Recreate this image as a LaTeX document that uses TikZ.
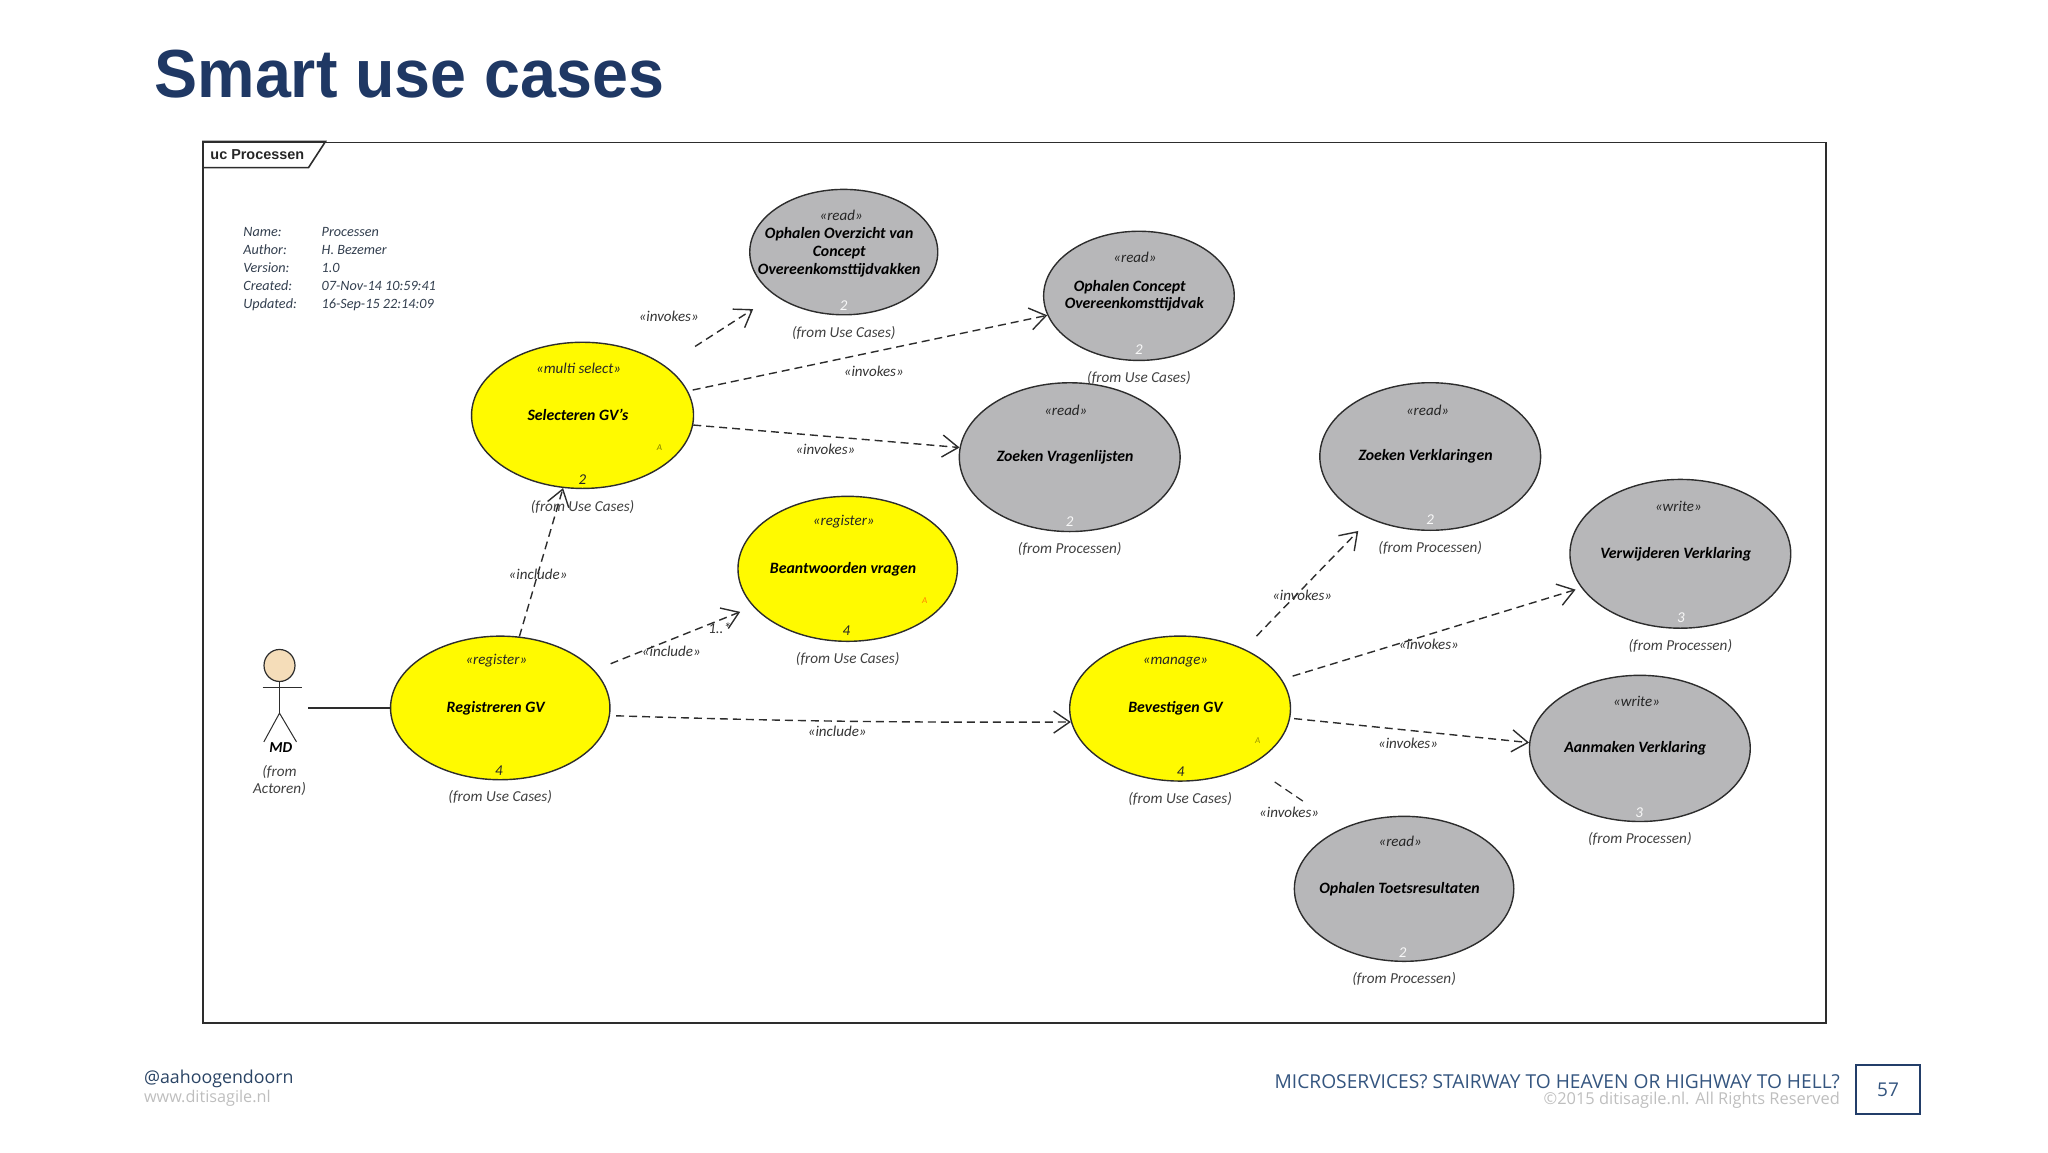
\documentclass[tikz,border=0pt]{standalone}
\usepackage{fontspec}
\setmainfont{Carlito}
\newfontfamily\titlefont[FakeStretch=0.95]{Liberation Sans}
\newfontfamily\framefont{Liberation Sans}
\newfontfamily\footfont{Open Sans}
\usetikzlibrary{arrows.meta,shapes,positioning}
\definecolor{ucyellow}{RGB}{255,250,0}
\definecolor{ucgrey}{RGB}{183,183,185}
\definecolor{ucline}{RGB}{45,45,45}
\definecolor{infotext}{RGB}{50,62,78}
\definecolor{titleblue}{RGB}{31,56,100}
\definecolor{footblue}{RGB}{52,85,127}
\definecolor{footgrey}{RGB}{190,190,190}
\definecolor{skin}{RGB}{245,221,185}
\tikzstyle{usecase} = [ellipse, draw=ucline, line width=0.7pt, inner sep=0pt, inner xsep=-8pt, align=center, font=\fontsize{7.9}{8.9}\selectfont\bfseries\itshape, text=black, execute at end node={\kern4.6pt}]
\tikzstyle{ucyel} = [usecase, fill=ucyellow]
\tikzstyle{ucgry} = [usecase, fill=ucgrey]
\tikzstyle{stereo} = [inner sep=0pt, font=\fontsize{7.5}{9}\selectfont\itshape, text=black!85]
\tikzstyle{fromlabel} = [inner sep=0pt, font=\fontsize{7.6}{8.5}\selectfont\itshape, text=black!75]
\tikzstyle{numdark} = [inner sep=0pt, font=\fontsize{7.5}{8}\selectfont\itshape, text=black!85]
\tikzstyle{numlight} = [inner sep=0pt, font=\fontsize{7.5}{8}\selectfont\itshape, text=white!90!ucgrey]
\tikzstyle{abslabel} = [inner sep=0pt, font=\fontsize{4.5}{5}\selectfont\itshape]
\tikzstyle{depend} = [ucline, line width=0.7pt, dash pattern=on 4pt off 2.5pt, -{Straight Barb[length=8pt,width=11pt]}]
\tikzstyle{deplabel} = [stereo, text=black!80]
\tikzstyle{infolist} = [anchor=west, align=left, inner sep=0pt, font=\fontsize{7.1}{8.95}\selectfont\itshape, text=infotext]

\begin{document}
\begin{tikzpicture}[x=0.65306pt,y=-0.65306pt]
\useasboundingbox (0,0) rectangle (1568,882);

% heading
\node[anchor=base west, inner sep=0pt, font=\fontsize{34}{40}\selectfont\titlefont\bfseries, text=titleblue] (title) at (118,75) {Smart use cases};

% diagram frame
\node[draw=ucline, line width=0.8pt, minimum width=811.7pt, minimum height=440.2pt, inner sep=0pt] (frame) at (776.75,446) {};
\draw[ucline, line width=0.8pt] (frame.north west) -- ++(94.5,0) -- ++(-13,20) -- ++(-81.5,0);
\node[inner sep=0pt, font=\fontsize{7.2}{8}\selectfont\framefont\bfseries, text=black!85] (frameName) at (197,118.5) {uc Processen};

% info block
\node[infolist] (infoKeys) at (186,206) {Name:\\Author:\\Version:\\Created:\\Updated:};
\node[infolist] (infoVals) at (246,206) {Processen\\H. Bezemer\\1.0\\07-Nov-14 10:59:41\\16-Sep-15 22:14:09};

% use cases
\node[ucgry, inner xsep=-11pt, minimum width=94pt, minimum height=62.7pt] (op1) at (646,193) {Ophalen Overzicht van\\Concept\\Overeenkomsttijdvakken};
\node[ucgry, minimum width=95.3pt, minimum height=64.6pt] (op2) at (872,226.5) {Ophalen Concept\kern4.6pt\\Overeenkomsttijdvak};
\node[ucyel, minimum width=111pt, minimum height=73.1pt] (sel) at (446,318) {Selecteren GV's};
\node[ucgry, minimum width=110.4pt, minimum height=74.4pt] (zv) at (819,350) {Zoeken Vragenlijsten};
\node[ucgry, minimum width=110.4pt, minimum height=73.8pt] (zl) at (1095,349.5) {Zoeken Verklaringen};
\node[ucgry, minimum width=110.4pt, minimum height=74.4pt] (verw) at (1286.5,424) {Verwijderen Verklaring};
\node[ucyel, minimum width=109.7pt, minimum height=72.5pt] (bea) at (649,435.5) {Beantwoorden vragen};
\node[ucyel, minimum width=109.7pt, minimum height=71.8pt] (reg) at (383,542) {Registreren GV};
\node[ucyel, minimum width=110.4pt, minimum height=72.5pt] (bev) at (903.5,542.5) {Bevestigen GV};
\node[ucgry, minimum width=110.4pt, minimum height=73.1pt] (aan) at (1255.5,573) {Aanmaken Verklaring};
\node[ucgry, minimum width=109.7pt, minimum height=72.5pt] (opt) at (1075,680.5) {Ophalen Toetsresultaten};

% stereotypes
\node[stereo] (op1S) at (644,165) {«read»};
\node[stereo] (op2S) at (869,197) {«read»};
\node[stereo] (selS) at (443,282) {«multi select»};
\node[stereo] (zvS) at (816,314) {«read»};
\node[stereo] (zlS) at (1093,314) {«read»};
\node[stereo] (verwS) at (1285,388) {«write»};
\node[stereo] (beaS) at (646,399) {«register»};
\node[stereo] (regS) at (380,506) {«register»};
\node[stereo] (bevS) at (900,507) {«manage»};
\node[stereo] (aanS) at (1253,537) {«write»};
\node[stereo] (optS) at (1072,644) {«read»};

% numbers and small marks
\node[numlight] (op1N) at (646,234) {2};
\node[numlight] (op2N) at (872,268) {2};
\node[numdark] (selN) at (446,367) {2};
\node[numlight] (zvN) at (819,399) {2};
\node[numlight] (zlN) at (1095,398) {2};
\node[numlight] (verwN) at (1287,473) {3};
\node[numdark] (beaN) at (648,483) {4};
\node[numdark] (regN) at (382,590) {4};
\node[numdark] (bevN) at (904,591) {4};
\node[numlight] (aanN) at (1255,622) {3};
\node[numlight] (optN) at (1074,729) {2};
\node[abslabel, text=black!50!ucyellow] (selA) at (505,343) {A};
\node[abslabel, text=orange] (beaA) at (708,460) {A};
\node[abslabel, text=black!40!ucyellow] (bevA) at (963,567) {A};

% from labels
\node[fromlabel, below=5.5pt of op1] (op1F) {(from Use Cases)};
\node[fromlabel, below=5pt of op2] (op2F) {(from Use Cases)};
\node[fromlabel, below=5.5pt of sel] (selF) {(from Use Cases)};
\node[fromlabel, below=5pt of zv] (zvF) {(from Processen)};
\node[fromlabel, below=5pt of zl] (zlF) {(from Processen)};
\node[fromlabel, below=5pt of verw] (verwF) {(from Processen)};
\node[fromlabel, below=5pt of bea] (beaF) {(from Use Cases)};
\node[fromlabel, below=5pt of reg] (regF) {(from Use Cases)};
\node[fromlabel, below=5pt of bev] (bevF) {(from Use Cases)};
\node[fromlabel, below=5pt of aan] (aanF) {(from Processen)};
\node[fromlabel, below=5pt of opt] (optF) {(from Processen)};

% actor
\node[ellipse, draw=ucline, line width=0.6pt, fill=skin, minimum width=15.5pt, minimum height=16pt, inner sep=0pt] (head) at (214,509.5) {};
\coordinate (hip) at (214,546);
\coordinate (armL) at (201,526);
\coordinate (armR) at (231,526);
\coordinate (legL) at (202,568);
\coordinate (legR) at (227,568);
\coordinate (actorEnd) at (236,542);
\draw[ucline, line width=0.5pt] (head) -- (hip);
\draw[ucline, line width=0.5pt] (armL) -- (armR);
\draw[ucline, line width=0.5pt] (legL) -- (hip) -- (legR);
\node[inner sep=0pt, font=\fontsize{7.6}{8}\selectfont\bfseries\itshape] (actorName) at (215,572) {MD};
\node[fromlabel, align=center] (actorF) at (214,597.5) {(from\\Actoren)};
\draw[ucline, line width=0.6pt] (actorEnd) -- (reg);

% dependencies
\draw[depend, shorten <=17.8pt, shorten >=12.7pt] (sel.31) -- (op1.212);
\draw[depend, shorten <=2.4pt] (sel.13) -- (op2.192);
\draw[depend] (sel.-5) -- (zv.175);
\draw[depend] (reg.75) -- (sel.255);
\draw[depend, shorten <=8.7pt, shorten >=7pt] (reg) -- (bea);
\draw[depend, shorten <=3pt] (reg.-4) to[bend right=1] (bev.187);
\draw[depend, shorten <=8.8pt, shorten >=8.3pt] (bev.43) -- (zl.226);
\draw[depend, shorten <=5.6pt, shorten >=3pt] (bev.16) -- (verw.199);
\draw[depend, shorten <=2pt] (bev.-5) -- (aan.177);
\coordinate (optEnd) at (1000,615);
\draw[ucline, line width=0.6pt, dash pattern=on 4pt off 2.5pt, shorten <=14.8pt] (bev.-39) -- (optEnd);

% dependency labels
\node[deplabel] (l1) at (512,242) {«invokes»};
\node[deplabel] (l2) at (669,284) {«invokes»};
\node[deplabel] (l3) at (632,344) {«invokes»};
\node[deplabel] (l4) at (412,440) {«include»};
\node[deplabel] (l5) at (514,499) {«include»};
\node[deplabel] (l5m) at (551,481) {1..*};
\node[deplabel] (l6) at (641,560) {«include»};
\node[deplabel] (l7) at (997,456) {«invokes»};
\node[deplabel] (l8) at (1094,493) {«invokes»};
\node[deplabel] (l9) at (1078,569) {«invokes»};
\node[deplabel] (l10) at (987,622) {«invokes»};

% footer
\node[anchor=west, inner sep=0pt, font=\fontsize{8.9}{12}\selectfont\footfont, text=footblue!80!black] (handle) at (110,826) {@aahoogendoorn};
\node[anchor=west, inner sep=0pt, font=\fontsize{8.1}{10}\selectfont\footfont, text=footgrey] (site) at (110,840.5) {www.ditisagile.nl};
\node[anchor=east, inner sep=0pt, font=\fontsize{9.6}{11}\selectfont\footfont, text=footblue] (talk) at (1409,828) {MICROSERVICES? STAIRWAY TO HEAVEN OR HIGHWAY TO HELL?};
\node[anchor=east, inner sep=0pt, font=\fontsize{8.2}{10}\selectfont\footfont, text=footgrey] (copy) at (1409,842.5) {©2015 ditisagile.nl. All Rights Reserved};
\node[draw=titleblue!80!footblue, line width=1.3pt, minimum width=32pt, minimum height=24.5pt, inner sep=0pt, font=\fontsize{9.5}{12}\selectfont\footfont, text=footblue] (page) at (1445.5,834) {57};
\end{tikzpicture}
\end{document}
